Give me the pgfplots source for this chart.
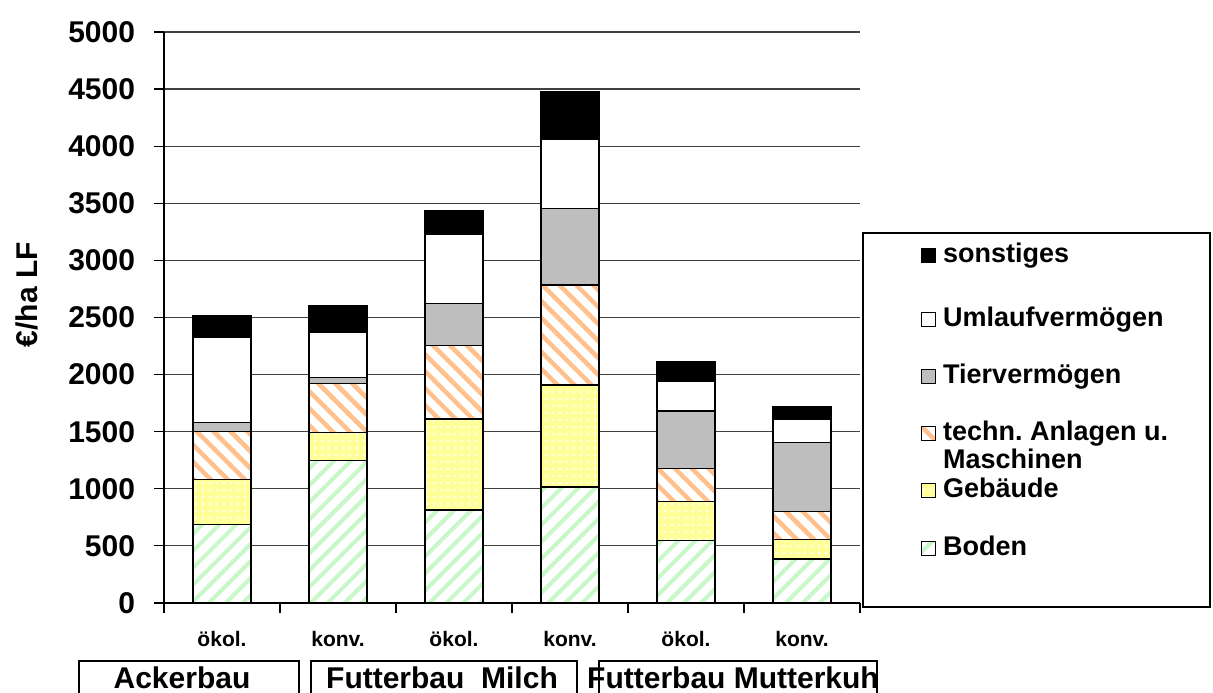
\documentclass[border=0pt]{standalone}
\usepackage{fontspec}
\setmainfont{Liberation Sans}
\usepackage{pgfplots}
\pgfplotsset{compat=1.18}
\usetikzlibrary{patterns.meta}
\frenchspacing

\definecolor{bodengr}{HTML}{C8F8C8}
\definecolor{gebgelb}{HTML}{FFFF99}
\definecolor{technor}{HTML}{FFC08C}
\definecolor{tiergr}{HTML}{BEBEBE}
\definecolor{gridc}{HTML}{404040}

\tikzset{
  boden/.style={draw=black, preaction={fill=white},
    preaction={pattern={Lines[angle=45,distance=12pt,line width=4pt]}, pattern color=bodengr}},
  gebaeude/.style={draw=black, preaction={fill=gebgelb},
    preaction={pattern={Dots[distance=7pt,radius=1.3pt]}, pattern color=white}},
  technik/.style={draw=black, preaction={fill=white},
    preaction={pattern={Lines[angle=-45,distance=12pt,line width=4.5pt]}, pattern color=technor}},
  tier/.style={draw=black, fill=tiergr},
  umlauf/.style={draw=black, fill=white},
  sonst/.style={draw=black, fill=black},
}

\begin{document}
\begin{tikzpicture}[x=1pt,y=1pt]
\useasboundingbox (0,0) rectangle (1213,693);
\begin{axis}[
  at={(164pt,90pt)}, anchor=south west,
  scale only axis, width=696pt, height=571pt,
  ybar stacked, bar width=58pt,
  xmin=0, xmax=6, ymin=0, ymax=5000,
  xtick={0,...,6}, x tick label as interval,
  xticklabels={ökol.,konv.,ökol.,konv.,ökol.,konv.},
  ytick={0,500,...,5000},
  ymajorgrids, grid style={gridc, line width=1.2pt},
  axis x line*=bottom, axis y line*=left,
  axis line style={line width=1.3pt},
  tick align=outside, major tick length=10pt,
  tick style={black, line width=1.2pt},
  every tick label/.append style={black},
  yticklabel style={font=\fontsize{30}{36}\selectfont\bfseries, xshift=-15pt,
    /pgf/number format/1000 sep={}, /pgf/number format/assume math mode=true},
  xticklabel style={font=\fontsize{21}{25}\selectfont\bfseries, yshift=-14pt},
  ylabel={€/ha LF},
  ylabel style={font=\fontsize{30}{36}\selectfont\bfseries,
    at={(rel axis cs:-0.197,0.54)}, anchor=center},
  line width=1.3pt,
]
\addplot[boden] coordinates {(0.5,690) (1.5,1250) (2.5,815) (3.5,1015) (4.5,545) (5.5,385)};
\addplot[gebaeude] coordinates {(0.5,390) (1.5,245) (2.5,795) (3.5,895) (4.5,345) (5.5,170)};
\addplot[technik] coordinates {(0.5,420) (1.5,430) (2.5,645) (3.5,875) (4.5,285) (5.5,245)};
\addplot[tier] coordinates {(0.5,80) (1.5,50) (2.5,370) (3.5,670) (4.5,505) (5.5,605)};
\addplot[umlauf] coordinates {(0.5,745) (1.5,395) (2.5,605) (3.5,605) (4.5,265) (5.5,205)};
\addplot[sonst] coordinates {(0.5,195) (1.5,235) (2.5,205) (3.5,415) (4.5,165) (5.5,105)};
\end{axis}

% legend
\draw[line width=1.2pt] (863,86) rectangle (1210,460);
\begin{scope}[every node/.style={anchor=base west, inner sep=0pt,
    font=\fontsize{27}{30}\selectfont\bfseries}]
  \draw[sonst, line width=1pt] (921,430) rectangle ++(14,14);
  \node at (943,430) {sonstiges};
  \draw[umlauf, line width=1pt] (921,366) rectangle ++(14,14);
  \node at (943,366) {Umlaufvermögen};
  \draw[tier, line width=1pt] (921,309) rectangle ++(14,14);
  \node at (943,309) {Tiervermögen};
  \draw[technik, line width=1pt] (921,252) rectangle ++(14,14);
  \node at (943,252) {techn. Anlagen u.};
  \node at (943,224) {Maschinen};
  \draw[gebaeude, line width=1pt] (921,195) rectangle ++(14,14);
  \node at (943,195) {Gebäude};
  \draw[boden, line width=1pt] (921,137) rectangle ++(14,14);
  \node at (943,137) {Boden};
\end{scope}

% group boxes below the categories
\begin{scope}[every node/.style={anchor=base, inner sep=0pt,
    font=\fontsize{30}{36}\selectfont\bfseries}]
  \draw[line width=1.2pt] (79,-10) |- (299,32) -- (299,-10);
  \node at (182,4) {Ackerbau};
  \draw[line width=1.2pt] (311,-10) |- (577,32) -- (577,-10);
  \node at (442,4) {Futterbau\ \ Milch};
  \draw[line width=1.2pt] (599,-10) |- (877,32) -- (877,-10);
  \node at (733,4) {Futterbau Mutterkuh};
\end{scope}
\end{tikzpicture}
\end{document}
